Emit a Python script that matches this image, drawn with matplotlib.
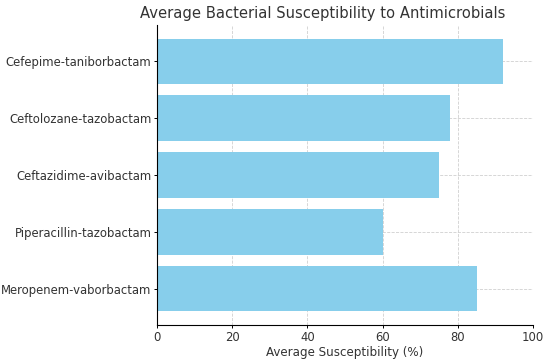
import matplotlib
matplotlib.use("Agg")
import matplotlib.pyplot as plt

categories = ["Meropenem-vaborbactam", "Piperacillin-tazobactam", "Ceftazidime-avibactam",
              "Ceftolozane-tazobactam", "Cefepime-taniborbactam"]
values = [85, 60, 75, 78, 92]
xticks = [0, 20, 40, 60, 80, 100]

fig = plt.figure(figsize=(5.57, 3.64), dpi=100)
ax = fig.add_axes([157/557, 39/364, 376/557, 300/364])
ax.barh(categories, values, color="skyblue", height=0.8, zorder=2)
ax.set_xlim(0, 100)
ax.set_xticks(xticks)
ax.grid(True, linestyle="--", color="#d0d0d0", linewidth=0.6, zorder=0)
for s in ["top", "right"]:
    ax.spines[s].set_visible(False)
for s in ["left", "bottom"]:
    ax.spines[s].set_linewidth(0.8)
ax.set_xlabel("Average Susceptibility (%)", fontsize=8.6, color="#333333", labelpad=1.5)
ax.set_title("Average Bacterial Susceptibility to Antimicrobials", fontsize=10.6,
             color="#333333", pad=5, x=0.441)
ax.tick_params(labelsize=8.4, labelcolor="#333333", length=2, width=0.7, pad=2)
fig.savefig("out.png", dpi=100)
